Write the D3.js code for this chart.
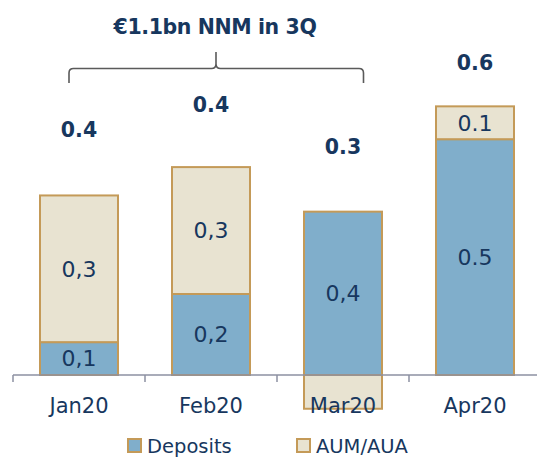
<!DOCTYPE html>
<html>
<head>
<meta charset="utf-8">
<script src="https://cdn.jsdelivr.net/npm/d3@7"></script>
<style>
  html, body { margin: 0; padding: 0; background: #ffffff; }
  svg { display: block; }
  text { font-family: "DejaVu Sans", sans-serif; }
</style>
</head>
<body>
<svg id="chart" width="537" height="457"></svg>
<script>
// ---- data ----
const categories = ["Jan20", "Feb20", "Mar20", "Apr20"];
const deposits = [0.073, 0.18, 0.363, 0.524];
const aumAua = [0.326, 0.282, -0.075, 0.073];
const depositLabels = ["0,1", "0,2", "0,4", "0.5"];
const aumLabels = ["0,3", "0,3", "", "0.1"];
const totalLabels = ["0.4", "0.4", "0.3", "0.6"];
const seriesNames = ["Deposits", "AUM/AUA"];
const titleText = "€1.1bn NNM in 3Q";

// ---- styles / layout ----
const navy = "#17375e";
const fillDep = "#80aecb";
const fillAum = "#e8e3d1";
const strokeCol = "#c49a58";
const totalGap = [58, 55, 57.5, 36];

const svg = d3.select("#chart");

const x = d3.scaleBand().domain(categories).range([13, 541]).padding(0);
const y = d3.scaleLinear().domain([0, 0.6]).range([375, 105]);
const barW = 78;
const cx = c => x(c) + x.bandwidth() / 2;

// stacked segments
const segs = [];
categories.forEach((c, i) => {
  const d1 = deposits[i];
  segs.push({c, y0: 0, y1: d1, fill: fillDep, label: depositLabels[i]});
  if (aumAua[i] >= 0) {
    segs.push({c, y0: d1, y1: d1 + aumAua[i], fill: fillAum, label: aumLabels[i]});
  } else {
    segs.push({c, y0: aumAua[i], y1: 0, fill: fillAum, label: aumLabels[i]});
  }
});

categories.forEach(c => {
  svg.append("line")
    .attr("x1", x(c)).attr("x2", x(c))
    .attr("y1", y(0)).attr("y2", y(0) + 7)
    .attr("stroke", "#8c90a2").attr("stroke-width", 1.5);
});

svg.selectAll("rect.seg").data(segs).enter().append("rect")
  .attr("class", "seg")
  .attr("x", d => cx(d.c) - barW / 2)
  .attr("width", barW)
  .attr("y", d => y(d.y1))
  .attr("height", d => y(d.y0) - y(d.y1))
  .attr("fill", d => d.fill)
  .attr("stroke", strokeCol)
  .attr("stroke-width", 2);

svg.append("line")
  .attr("x1", 13).attr("x2", 537)
  .attr("y1", y(0)).attr("y2", y(0))
  .attr("stroke", "#8c90a2").attr("stroke-width", 1.5);

// segment labels
svg.selectAll("text.seg").data(segs.filter(d => d.label)).enter().append("text")
  .attr("class", "seg")
  .attr("x", d => cx(d.c))
  .attr("y", d => (y(d.y0) + y(d.y1)) / 2)
  .attr("dy", "0.36em")
  .attr("text-anchor", "middle")
  .attr("font-size", 22)
  .attr("fill", navy)
  .text(d => d.label);

// total labels
const totalTops = categories.map((c, i) => deposits[i] + Math.max(aumAua[i], 0));
svg.selectAll("text.total").data(categories).enter().append("text")
  .attr("class", "total")
  .attr("x", c => cx(c))
  .attr("y", (c, i) => y(totalTops[i]) - totalGap[i])
  .attr("text-anchor", "middle")
  .attr("font-size", 20.5)
  .attr("font-weight", "bold")
  .attr("fill", navy)
  .text((c, i) => totalLabels[i]);

// category labels
svg.selectAll("text.cat").data(categories).enter().append("text")
  .attr("class", "cat")
  .attr("x", c => cx(c))
  .attr("y", 413)
  .attr("text-anchor", "middle")
  .attr("font-size", 21)
  .attr("fill", navy)
  .text(c => c);

// title
svg.append("text")
  .attr("x", 215).attr("y", 33.5)
  .attr("text-anchor", "middle")
  .attr("font-size", 20.5)
  .attr("font-weight", "bold")
  .attr("letter-spacing", -0.4)
  .attr("fill", navy)
  .text(titleText);

// brace
svg.append("path")
  .attr("d", "M69,83 V73 Q69,68.5 73.5,68.5 H211.5 Q216,68.5 216,64 V52 M216,64 Q216,68.5 220.5,68.5 H359 Q363.5,68.5 363.5,73 V83")
  .attr("fill", "none")
  .attr("stroke", "#5a5a5a")
  .attr("stroke-width", 1.6);

// legend
const legendX = [128, 297];
const legendFill = [fillDep, fillAum];
seriesNames.forEach((n, i) => {
  svg.append("rect")
    .attr("x", legendX[i]).attr("y", 439)
    .attr("width", 13).attr("height", 13)
    .attr("fill", legendFill[i])
    .attr("stroke", strokeCol).attr("stroke-width", 2);
  svg.append("text")
    .attr("x", legendX[i] + 19).attr("y", 452.5)
    .attr("font-size", 19.5)
    .attr("fill", navy)
    .text(n);
});
</script>
</body>
</html>
